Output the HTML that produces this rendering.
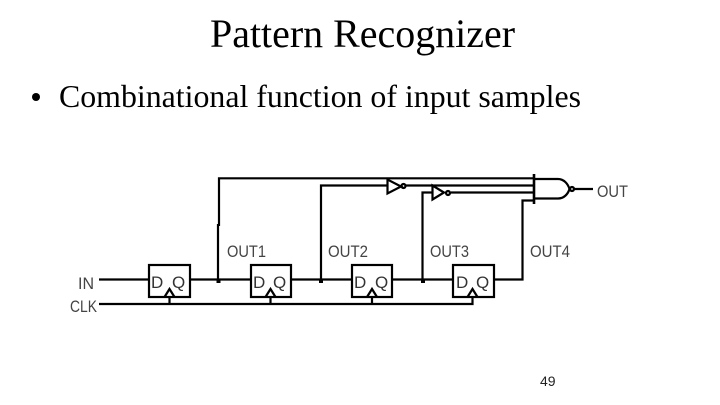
<!DOCTYPE html>
<html>
<head>
<meta charset="utf-8">
<style>
html,body{margin:0;padding:0;background:#fff;width:720px;height:405px;overflow:hidden}
svg{display:block}
.w{fill:none;stroke:#000;stroke-width:2.2;stroke-linejoin:miter}
.l{font-family:"Liberation Sans",sans-serif;font-size:17px;fill:#444;font-weight:400}
.f{font-family:"Liberation Sans",sans-serif;font-size:17px;fill:#333}
.s{font-family:"Liberation Serif",serif;fill:#000}
</style>
</head>
<body>
<svg width="720" height="405" viewBox="0 0 720 405" xmlns="http://www.w3.org/2000/svg">
<text class="s" x="210" y="47" font-size="40" textLength="305" lengthAdjust="spacingAndGlyphs">Pattern Recognizer</text>
<circle cx="36" cy="97" r="4" fill="#000"/>
<text class="s" x="59" y="107" font-size="32" textLength="522" lengthAdjust="spacingAndGlyphs">Combinational function of input samples</text>

<g class="w">
<!-- flip flop boxes -->
<rect x="149" y="265" width="41" height="32"/>
<rect x="251" y="265" width="40" height="32"/>
<rect x="352" y="265" width="40" height="32"/>
<rect x="453" y="265" width="41" height="32"/>
<!-- clock triangles -->
<path d="M164.500 297L169.500 289L174.500 297"/>
<path d="M265.500 297L270.500 289L275.500 297"/>
<path d="M367 297L372 289L377 297"/>
<path d="M467.500 297L472.500 289L477.500 297"/>
<!-- data line -->
<path d="M99 279.500H149M190 279.500H251M291 279.500H352M392 279.500H453M494 279.500H522.500V200.500H534"/>
<!-- clock line -->
<path d="M99 304H472.500V297M169.500 304V297M270.500 304V297M372 304V297"/>
<!-- tap lines -->
<path d="M218 279.500V224M219 226V178.300H534"/>
<path d="M321 279.500V185.500H387M405 185.500H534"/>
<path d="M422.500 279.500V192.500H432M451 192.500H534"/>
<!-- inverters -->
<path d="M387.500 179.500V193.500L401 186.500Z"/>
<circle cx="403.500" cy="186" r="2"/>
<path d="M432.500 185.500V199.500L444 192.500Z"/>
<circle cx="448" cy="193" r="2"/>
<!-- NAND gate -->
<path d="M534 174V204" stroke-width="2.600"/>
<path d="M534 179H558C564 179 568 184 569.500 189C568 194 564 198.500 558 198.500H534"/>
<circle cx="572" cy="189" r="2"/>
<path d="M574 189H593"/>
</g>
<!-- junction dots -->
<g fill="#000">
<rect x="216.500" y="279" width="4" height="4"/>
<rect x="319" y="279" width="4" height="4"/>
<rect x="421" y="279" width="4" height="4"/>
</g>

<!-- labels -->
<text class="l" x="597" y="197" textLength="31" lengthAdjust="spacingAndGlyphs">OUT</text>
<text class="l" x="227" y="257" textLength="39" lengthAdjust="spacingAndGlyphs">OUT1</text>
<text class="l" x="328" y="257" textLength="40" lengthAdjust="spacingAndGlyphs">OUT2</text>
<text class="l" x="430" y="257" textLength="39" lengthAdjust="spacingAndGlyphs">OUT3</text>
<text class="l" x="530" y="257" textLength="40" lengthAdjust="spacingAndGlyphs">OUT4</text>
<text class="l" x="78" y="289" textLength="16" lengthAdjust="spacingAndGlyphs">IN</text>
<text class="l" x="70" y="312" textLength="27" lengthAdjust="spacingAndGlyphs">CLK</text>
<text class="f" x="151" y="288">D</text><text class="f" x="172" y="288">Q</text>
<text class="f" x="253" y="288">D</text><text class="f" x="273" y="288">Q</text>
<text class="f" x="354" y="288">D</text><text class="f" x="375" y="288">Q</text>
<text class="f" x="456" y="288">D</text><text class="f" x="476" y="288">Q</text>
<text x="540" y="386" font-family="Liberation Sans,sans-serif" font-size="14" fill="#222">49</text>
</svg>
</body>
</html>
